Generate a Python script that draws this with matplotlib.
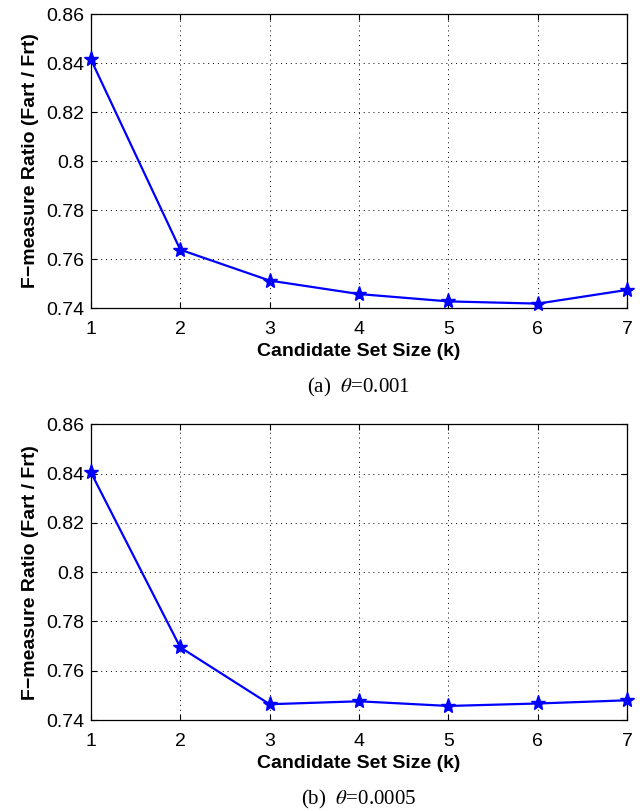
import matplotlib
matplotlib.use("Agg")
import matplotlib.pyplot as plt

# Data
k_values = [1, 2, 3, 4, 5, 6, 7]
ratio_a = [0.8415, 0.7638, 0.7512, 0.7457, 0.7427, 0.7418, 0.7474]
ratio_b = [0.8405, 0.7695, 0.7464, 0.7476, 0.7457, 0.7467, 0.7480]
yticks = [0.74, 0.76, 0.78, 0.80, 0.82, 0.84, 0.86]
ytick_labels = ["0.74", "0.76", "0.78", "0.8", "0.82", "0.84", "0.86"]
captions = [r"(a)  $\theta$=0.001", r"(b)  $\theta$=0.0005"]

plt.rcParams["font.family"] = ["Liberation Sans", "DejaVu Sans"]
plt.rcParams["mathtext.fontset"] = "stix"

fig = plt.figure(figsize=(6.4, 8.11), dpi=100)

positions = [
    [0.142, 0.6202, 0.838, 0.3625],
    [0.142, 0.1122, 0.838, 0.3646],
]

for pos, series, cap in zip(positions, [ratio_a, ratio_b], captions):
    ax = fig.add_axes(pos)
    ax.plot(k_values, series, color="blue", linewidth=1.6, marker="*",
            markersize=11, clip_on=False, zorder=3)
    ax.set_xlim(1, 7)
    ax.set_ylim(0.74, 0.86)
    ax.set_xticks(k_values)
    ax.set_yticks(yticks)
    ax.set_yticklabels(ytick_labels)
    ax.tick_params(direction="in", top=True, right=True, labelsize=14,
                   length=4, width=0.8)
    ax.tick_params(axis="x", pad=9)
    ax.tick_params(axis="y", pad=5)
    ax.grid(True, linestyle=(0, (1, 4)), color="black", linewidth=0.7)
    for s in ax.spines.values():
        s.set_linewidth(0.9)
    ax.set_xlabel("Candidate Set Size (k)", fontsize=14, fontweight="bold",
                  labelpad=4)
    ax.set_ylabel("F\u2212measure Ratio (Fart / Frt)", fontsize=14,
                  fontweight="bold", labelpad=5)
    ax.text(0.5, -0.27, cap, transform=ax.transAxes, ha="center",
            va="center", fontsize=15, family="Liberation Serif")

fig.savefig("out.png", dpi=100)
